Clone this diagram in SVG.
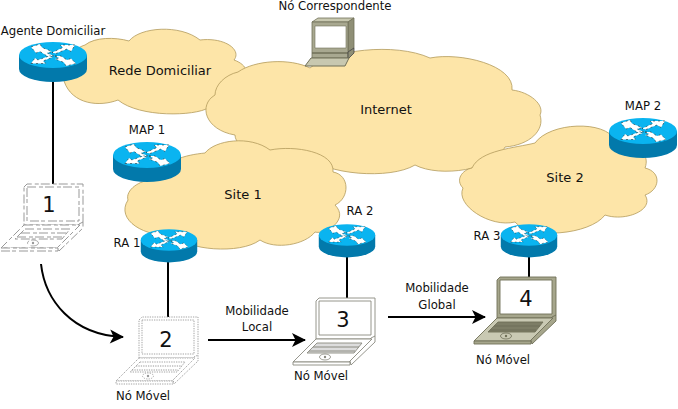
<svg xmlns="http://www.w3.org/2000/svg" xmlns:xlink="http://www.w3.org/1999/xlink" width="678" height="409" viewBox="0 0 678 409">
<style>
text{font-family:"DejaVu Sans",sans-serif;font-size:11.700px;fill:#111;text-anchor:middle}
.num{font-size:21px}
.big{font-size:13px}
.cloud{fill:#fde5a8;stroke:#b39b5c;stroke-width:.8}
.link{fill:none;stroke:#000;stroke-width:2}
.arrow{fill:none;stroke:#000;stroke-width:2;marker-end:url(#head)}
.fr{fill:var(--f);stroke:var(--s);stroke-width:var(--w);stroke-dasharray:var(--d)}
.kb{fill:var(--k);stroke:var(--s);stroke-width:var(--w);stroke-dasharray:var(--d)}
.sc{fill:#fff;stroke:var(--s);stroke-width:var(--w);stroke-dasharray:var(--d)}
.kl{fill:var(--n);stroke:var(--s);stroke-width:var(--w);stroke-dasharray:var(--d)}
.l1{--f:#fff;--k:#fff;--n:#fff;--s:#999;--w:1;--d:9 3 4 2}
.l2{--f:#fff;--k:#fff;--n:#fff;--s:#999;--w:.9;--d:1.300 1.100}
.l3{--f:#fff;--k:#fff;--n:#ddd;--s:#8a8a80;--w:.9;--d:none}
.l4{--f:#a6a68c;--k:#c9c9b3;--n:#7d7d66;--s:#6f6f58;--w:.9;--d:none}
</style>
<defs>
<marker id="head" markerUnits="userSpaceOnUse" markerWidth="16" markerHeight="16" refX="13" refY="7" orient="auto" overflow="visible"><path d="M0 0L14 7L0 14L3.500 7Z" fill="#000"/></marker>
<g id="router">
<path d="M-34 0V14A34 13 0 0 0 34 14V0Z" fill="#0279ab"/>
<ellipse rx="34" ry="13" fill="#0ab4f0"/>
<g fill="#fff" stroke="#111" stroke-width=".5" stroke-dasharray="2 3">
<path d="M-22-8L-13-11L-11-7.500L-1-3.500L-6-2L1 1L-6 1L-13-3.500L-17-2Z"/>
<path d="M22-10L7-10L10-7.500L-1-2.500L3-1.500L14-6L18-3.500Z"/>
<path d="M-22 8.500L-7 8.500L-10 6L0 2L-4 1L-15 5L-18 3Z"/>
<path d="M2 1L8 1L14 5L18 3.500L23 8.500L13 11L11 7.500L2 4L6 3Z"/>
</g>
</g>
<g id="laptop">
<path class="fr" d="M316 301L319 298H375V336L372 339H316Z"/>
<path class="sc" d="M319 301H371V335H319Z"/>
<path class="fr" d="M371 338L375 336V342L351 365L350 361Z"/>
<path class="kb" d="M316 339H372L349 362L293 362Z"/>
<path class="fr" d="M293 362H350V365H293Z"/>
<path class="kl" d="M317 343H362L354 353H307Z"/>
<path d="M313 347H359M309 351H355" fill="none" stroke="var(--s)" stroke-width="1" stroke-dasharray="var(--d)"/>
<ellipse cx="325" cy="357" rx="5.500" ry="3" fill="none" stroke="var(--s)" stroke-width=".8" stroke-dasharray="var(--d)"/>
<circle cx="325" cy="357" r="1.200" fill="var(--s)"/>
</g>
</defs>
<g id="clouds">
<g id="rede-domiciliar">
<path class="cloud" d="M64 81C60 60 75 48 85 45C95 37 115 37 129 41C140 27 180 24 200 40C225 37 242 50 234 60C248 65 250 75 241 82C245 98 225 110 208 108C195 116 140 118 118 100C100 107 72 105 64 81Z"/>
<text class="big" x="160" y="75">Rede Domiciliar</text>
</g>
<g id="internet">
<path class="cloud" d="M238 72C255 60 290 58 310 68C330 50 395 42 430 58C460 52 515 65 512 90C530 92 545 105 540 115C545 130 530 145 505 147C495 170 440 178 415 165C390 180 325 175 305 155C270 165 235 150 235 135C205 130 198 105 215 95C215 85 225 75 238 72Z"/>
<text class="big" x="386" y="114">Internet</text>
</g>
<g id="site-1">
<path class="cloud" d="M152 180C165 160 185 155 205 153C215 140 250 135 270 150C295 145 335 152 333 172C350 175 350 198 335 205C350 220 325 235 315 232C305 245 275 250 260 240C240 255 185 250 175 235C145 238 115 220 128 200C125 190 140 180 152 180Z"/>
<text class="big" x="243" y="199">Site 1</text>
</g>
<g id="site-2">
<path class="cloud" d="M472 168C480 150 515 148 535 143C550 122 605 120 615 140C640 145 650 155 645 168C662 172 660 190 645 195C655 210 625 222 605 215C590 235 530 240 515 222C490 228 455 205 463 188C455 180 462 170 472 168Z"/>
<text class="big" x="565" y="182">Site 2</text>
</g>
</g>
<g id="connectors">
<path class="link" d="M53 82V184"/>
<path class="link" d="M168 262V317"/>
<path class="link" d="M347 257V298"/>
<path class="link" d="M529 257V277"/>
<path class="arrow" d="M41 264C45 300 72 335 123 337"/>
<path class="arrow" d="M208 340H305"/>
<path class="arrow" d="M388 317H485"/>
</g>
<g id="agente-domiciliar"><use xlink:href="#router" transform="translate(53 55)"/><text x="53" y="35">Agente Domiciliar</text></g>
<g id="map-1"><use xlink:href="#router" transform="translate(147 155)"/><text x="147" y="134">MAP 1</text></g>
<g id="map-2"><use xlink:href="#router" transform="translate(643 131)"/><text x="643" y="110">MAP 2</text></g>
<g id="ra-1"><use xlink:href="#router" transform="translate(169 240) scale(.83)"/><text x="127" y="247">RA 1</text></g>
<g id="ra-2"><use xlink:href="#router" transform="translate(347 235) scale(.83)"/><text x="360" y="215">RA 2</text></g>
<g id="ra-3"><use xlink:href="#router" transform="translate(529 235) scale(.83)"/><text x="487" y="240">RA 3</text></g>
<g id="no-correspondente">
<path d="M312 22L318 18H354L348 22Z" fill="#c8c8b0" stroke="#707058" stroke-width=".8"/>
<path d="M348 22L354 18V48L348 52Z" fill="#8f8f76" stroke="#707058" stroke-width=".8"/>
<path d="M312 22H348V58H312Z" fill="#a8a890" stroke="#707058" stroke-width=".8"/>
<path d="M315 26H346V48H315Z" fill="#fff" stroke="#707058" stroke-width=".6"/>
<path d="M312 53H348" stroke="#707058" stroke-width="1.500"/>
<path d="M348 52L354 48V53L348 59Z" fill="#8f8f76" stroke="#444" stroke-width=".8"/>
<path d="M311 58H349L345 66H305Z" fill="#c8c8b0" stroke="#707058" stroke-width="1"/>
<text x="335" y="10">Nó Correspondente</text>
</g>
<g id="laptop-1" class="lap l1"><use xlink:href="#laptop" transform="translate(-292 -114)"/><text class="num" x="49" y="212">1</text></g>
<g id="laptop-2" class="lap l2"><use xlink:href="#laptop" transform="translate(-177 19)"/><text class="num" x="166" y="347">2</text><text x="143" y="400">Nó Móvel</text></g>
<g id="laptop-3" class="lap l3"><use xlink:href="#laptop"/><text class="num" x="343" y="327">3</text><text x="321" y="380">Nó Móvel</text></g>
<g id="laptop-4" class="lap l4"><use xlink:href="#laptop" transform="translate(181 -21)"/><text class="num" x="526" y="306">4</text><text x="503" y="364">Nó Móvel</text></g>
<g id="labels">
<text x="257" y="315">Mobilidade</text><text x="257" y="331">Local</text>
<text x="437" y="292">Mobilidade</text><text x="437" y="309">Global</text>
</g>
</svg>
